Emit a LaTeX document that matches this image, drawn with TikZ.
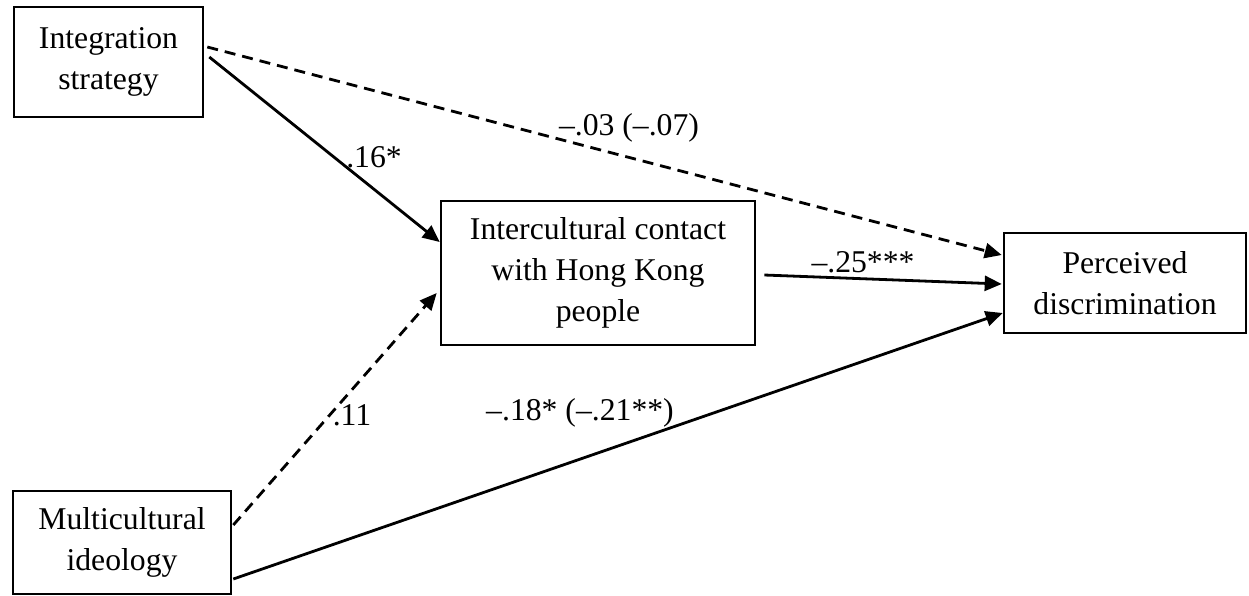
\documentclass[tikz,border=0pt]{standalone}
\usepackage{fontspec}
\setmainfont{Liberation Serif}
\usetikzlibrary{arrows.meta}
\begin{document}
\begin{tikzpicture}[x=1pt,y=-1pt,
    effect/.style={line width=2.8pt,-{Triangle[length=17pt,width=15pt]}},
    deffect/.style={effect,dash pattern=on 11pt off 7pt},
    coef/.style={inner sep=0pt,font=\fontsize{31.7}{41}\selectfont}]
    \tikzstyle{varbox}=[draw,line width=2.6pt,align=center,inner sep=0pt,
        font=\fontsize{31.7}{41}\selectfont]
    \useasboundingbox (0,0) rectangle (1249,595);

    \node[varbox,minimum width=189pt,minimum height=110pt] (integ) at (108.5,62) {Integration\\strategy};
    \node[varbox,minimum width=218pt,minimum height=103pt] (multi) at (122,542.5) {Multicultural\\ideology};
    \node[varbox,minimum width=314pt,minimum height=144pt] (contact) at (598,273) {Intercultural contact\\with Hong Kong\\people};
    \node[varbox,minimum width=242pt,minimum height=100pt] (percv) at (1125,283) {Perceived\\discrimination};

    \draw[effect] ([xshift=5pt,yshift=5pt]integ.east) -- ([yshift=31pt]contact.west);
    \draw[deffect] ([xshift=3pt,yshift=15pt]integ.east) -- ([xshift=-1pt,yshift=28pt]percv.west);
    \draw[deffect] ([xshift=1pt,yshift=17.5pt]multi.east) -- ([xshift=-3pt,yshift=-20pt]contact.west);
    \draw[effect] ([xshift=1pt,yshift=-36.5pt]multi.east) -- ([yshift=-30pt]percv.west);
    \draw[effect] ([xshift=8pt,yshift=-2pt]contact.east) -- ([xshift=-1pt,yshift=-1pt]percv.west);

    \node[coef] (c16) at (374,157) {.16*};
    \node[coef] (c03) at (629,128) {--.03 (--.07)};
    \node[coef] (c25) at (863,262) {--.25***};
    \node[coef] (c11) at (352,415) {.11};
    \node[coef] (c18) at (580,413) {--.18* (--.21**)};

\end{tikzpicture}
\end{document}
